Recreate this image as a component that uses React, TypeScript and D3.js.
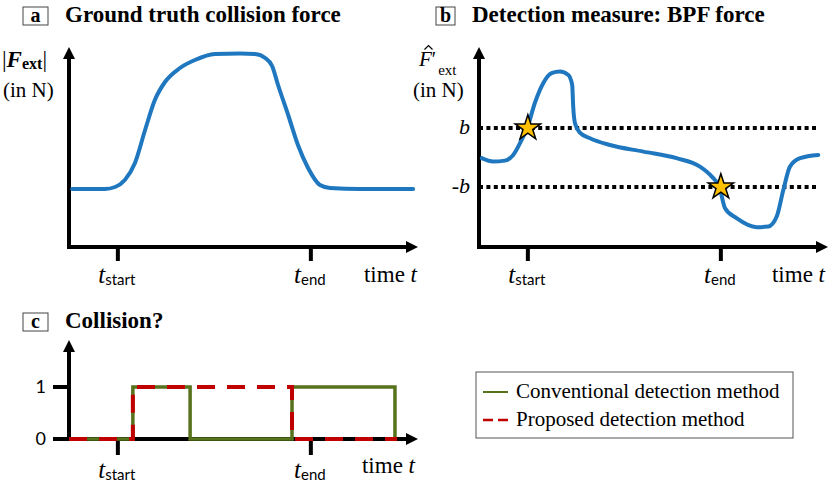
import * as d3 from "d3";

// ── Data ──────────────────────────────────────────────────────────────────────

// panel a: ground truth collision force (arbitrary units, time 0..100, force 0..100)
const forceTime = [0.9, 10.3, 13.2, 16, 18.9, 21.8, 24.6, 27.5, 31.8, 36.1, 41.8, 49, 53.3, 56.2, 58.2, 59.9, 62.8, 65.6, 68.5, 71.9, 74.8, 83.4, 98.6];
const forceValue = [29, 29, 30, 33.5, 42, 58.5, 73.5, 82.5, 89.5, 93.5, 96.5, 96.8, 96.5, 94.5, 90.5, 81, 66, 51, 39.5, 31, 29.5, 29, 29];

// panel b: band-pass filtered force
const bpfTime = [0.8, 4.1, 7.4, 9.8, 12.2, 13.8, 16, 18.4, 20.8, 23.2, 25.6, 26.7, 27, 27.5, 28.9, 31.8, 37.5, 47.1, 56.6, 63.3, 66.7, 68.9, 70.5, 73.8, 79.6, 82.9, 85.3, 87.2, 89.1, 92, 97.2];
const bpfValue = [44.4, 42.7, 43.2, 46, 53.5, 59.4, 72, 81.9, 86.9, 87.7, 86, 81, 70, 61.9, 57.2, 54.4, 51, 47.7, 44.4, 40.2, 35.2, 29.9, 19.4, 14.4, 9.9, 10.2, 15.2, 28.5, 40.2, 44.4, 46];
const thresholds = [59.5, 30];
const thresholdLabels = ["b", "-b"];

// panel c: collision flag
const convTime = [0, 18.3, 34.7, 63.9, 93.4];
const convState = [0, 1, 0, 1, 0];
const propTime = [0, 18.3, 63.9, 94];
const propState = [0, 1, 0, 0];
const stateTicks = [0, 1];

const tickTimes = [14, 69.3];
const tickSubs = ["start", "end"];

const legendLabels = ["Conventional detection method", "Proposed detection method"];

// ── Styles ────────────────────────────────────────────────────────────────────

const SERIF = "'Liberation Serif', 'Times New Roman', serif";
const SANS = "Lato, 'Liberation Sans', sans-serif";
const BLUE = "#1f77bf";
const GREEN = "#56721b";
const RED = "#c00000";
const STAR = "#ffc000";

type P = [number, number];

function Axes({ x0, x1, y0, y1 }: { x0: number; x1: number; y0: number; y1: number }) {
  // x0,y0 = origin; x1 = right arrow tip; y1 = top arrow tip
  return (
    <g>
      <line x1={x0} y1={y0} x2={x0} y2={y1 + 10} stroke="#000" strokeWidth={4} />
      <line x1={x0 - 2} y1={y0} x2={x1 - 10} y2={y0} stroke="#000" strokeWidth={4} />
      <path d={`M${x0},${y1}L${x0 - 6},${y1 + 12}L${x0 + 6},${y1 + 12}Z`} fill="#000" />
      <path d={`M${x1},${y0}L${x1 - 12},${y0 - 6}L${x1 - 12},${y0 + 6}Z`} fill="#000" />
    </g>
  );
}

function TimeTicks({ x, y0, labelY, tLen = 14 }: { x: d3.ScaleLinear<number, number>; y0: number; labelY: number; tLen?: number }) {
  return (
    <g>
      {tickTimes.map((t, i) => (
        <g key={i}>
          <line x1={x(t)} x2={x(t)} y1={y0} y2={y0 + tLen} stroke="#000" strokeWidth={4} />
          <text x={x(t) - 1} y={labelY} textAnchor="middle">
            <tspan fontFamily={SERIF} fontStyle="italic" fontSize={25}>t</tspan>
            <tspan fontFamily={SANS} fontSize={15} dy={2}>{tickSubs[i]}</tspan>
          </text>
        </g>
      ))}
    </g>
  );
}

function PanelTitle({ x, y, w, letter, title }: { x: number; y: number; w: number; letter: string; title: string }) {
  return (
    <g>
      <rect x={x} y={y} width={w} height={18} fill="#fff" stroke="#444" strokeWidth={1} />
      <text x={x + w / 2} y={y + 15} textAnchor="middle" fontFamily={SERIF} fontWeight="bold" fontSize={20}>{letter}</text>
      <text x={x + w + 17} y={y + 15} fontFamily={SERIF} fontWeight="bold" fontSize={23}>{title}</text>
    </g>
  );
}

export default function App() {
  // panel a
  const xA = d3.scaleLinear().domain([0, 100]).range([69, 418]);
  const yA = d3.scaleLinear().domain([0, 100]).range([247, 47]);
  // panel b
  const xB = d3.scaleLinear().domain([0, 100]).range([479, 828]);
  const yB = d3.scaleLinear().domain([0, 100]).range([247, 47]);
  // panel c
  const xC = d3.scaleLinear().domain([0, 100]).range([69, 418]);
  const yC = d3.scaleLinear().domain([0, 1]).range([439, 387]);

  const lineA = d3.line<number>().x((_d, i) => xA(forceTime[i])).y((d) => yA(d)).curve(d3.curveMonotoneX);
  const lineB = d3.line<number>().x((_d, i) => xB(bpfTime[i])).y((d) => yB(d)).curve(d3.curveMonotoneX);
  const stepConv = d3.line<number>().x((_d, i) => xC(convTime[i])).y((d) => yC(d)).curve(d3.curveStepAfter);
  const stepProp = d3.line<number>().x((_d, i) => xC(propTime[i])).y((d) => yC(d)).curve(d3.curveStepAfter);
  const star = d3.symbol().type(d3.symbolStar).size(200)();

  const starPts: P[] = [
    [xB(tickTimes[0]), yB(thresholds[0])],
    [xB(tickTimes[1]), yB(thresholds[1])],
  ];

  return (
    <svg width={830} height={482} style={{ position: "absolute", left: 0, top: 0, background: "#fff" }}>
      {/* ── Panel a ── */}
      <PanelTitle x={23} y={7} w={25} letter="a" title="Ground truth collision force" />
      <text x={2} y={67} fontFamily={SERIF} fontSize={23}>
        <tspan>|</tspan>
        <tspan fontWeight="bold" fontStyle="italic">F</tspan>
        <tspan fontWeight="bold" fontSize={16} dy={2}>ext</tspan>
        <tspan dy={-2}>|</tspan>
      </text>
      <text x={3} y={97} fontFamily={SERIF} fontSize={21}>(in N)</text>
      <Axes x0={xA(0)} x1={xA(100)} y0={yA(0)} y1={yA(100)} />
      <TimeTicks x={xA} y0={yA(0)} labelY={283} />
      <text x={417} y={282} textAnchor="end" fontFamily={SERIF} fontSize={23}>
        time <tspan fontStyle="italic">t</tspan>
      </text>
      <path d={lineA(forceValue) ?? ""} fill="none" stroke={BLUE} strokeWidth={4} strokeLinecap="round" />

      {/* ── Panel b ── */}
      <PanelTitle x={436} y={7} w={19} letter="b" title="Detection measure: BPF force" />
      <text x={419} y={66} fontFamily={SERIF} fontSize={21}>
        <tspan fontStyle="italic">F</tspan>
        <tspan fontSize={20}>′</tspan>
        <tspan fontSize={15} dy={9} dx={2}>ext</tspan>
      </text>
      {/* circumflex over F */}
      <path d="M424.5,49.5L428.5,45.5L432.5,49.5" fill="none" stroke="#000" strokeWidth={1.2} />
      <text x={413} y={97} fontFamily={SERIF} fontSize={21}>(in N)</text>
      {thresholds.map((v, i) => (
        <g key={i}>
          <line x1={xB(0)} x2={xB(97.5)} y1={yB(v)} y2={yB(v)} stroke="#000" strokeWidth={4} strokeDasharray="4,3.4" />
          <text x={470} y={yB(v) + 6} textAnchor="end" fontFamily={SERIF} fontStyle="italic" fontSize={22}>{thresholdLabels[i]}</text>
        </g>
      ))}
      <Axes x0={xB(0)} x1={xB(100)} y0={yB(0)} y1={yB(100)} />
      <TimeTicks x={xB} y0={yB(0)} labelY={283} />
      <text x={825} y={282} textAnchor="end" fontFamily={SERIF} fontSize={23}>
        time <tspan fontStyle="italic">t</tspan>
      </text>
      <path d={lineB(bpfValue) ?? ""} fill="none" stroke={BLUE} strokeWidth={4} strokeLinecap="round" />
      {starPts.map((p, i) => (
        <path key={i} d={star ?? ""} transform={`translate(${p[0]},${p[1]})`} fill={STAR} stroke="#000" strokeWidth={1.5} strokeLinejoin="miter" />
      ))}

      {/* ── Panel c ── */}
      <PanelTitle x={23} y={313} w={25} letter="c" title="Collision?" />
      <Axes x0={xC(0)} x1={xC(100)} y0={yC(0)} y1={340} />
      {stateTicks.map((s) => (
        <g key={s}>
          <line x1={xC(0) - 16} x2={xC(0)} y1={yC(s)} y2={yC(s)} stroke="#000" strokeWidth={4} />
          <text x={46} y={yC(s) + 6} textAnchor="end" fontFamily={SANS} fontSize={18}>{s}</text>
        </g>
      ))}
      <TimeTicks x={xC} y0={yC(0)} labelY={478} tLen={16} />
      <text x={415} y={473} textAnchor="end" fontFamily={SERIF} fontSize={23}>
        time <tspan fontStyle="italic">t</tspan>
      </text>
      <path d={stepConv(convState) ?? ""} fill="none" stroke={GREEN} strokeWidth={3.5} />
      <path d={stepProp(propState) ?? ""} fill="none" stroke={RED} strokeWidth={4} strokeDasharray="18,12" />

      {/* ── Legend ── */}
      <rect x={476} y={372} width={317} height={66} fill="none" stroke="#555" strokeWidth={1} />
      <line x1={483} x2={508} y1={392} y2={392} stroke={GREEN} strokeWidth={2} />
      <line x1={483} x2={508} y1={420} y2={420} stroke={RED} strokeWidth={2.5} strokeDasharray="10,5" />
      {legendLabels.map((l, i) => (
        <text key={i} x={516} y={398 + i * 28} fontFamily={SERIF} fontSize={21}>{l}</text>
      ))}
    </svg>
  );
}
